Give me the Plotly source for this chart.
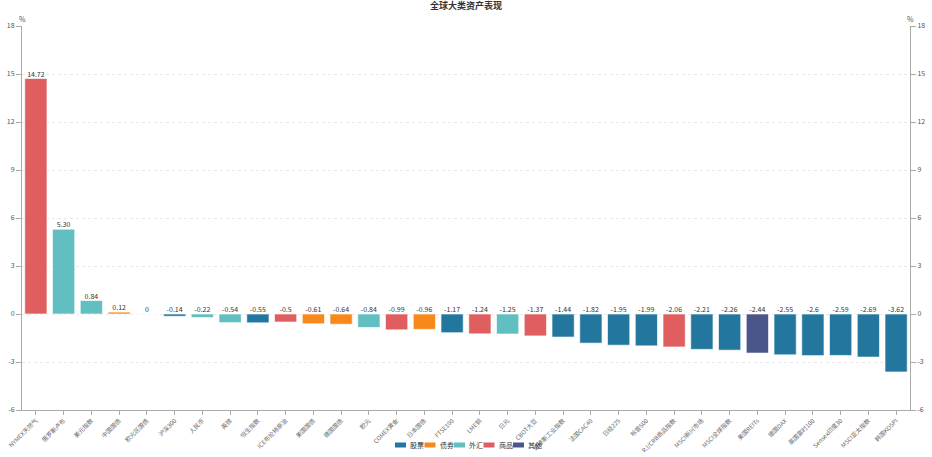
import plotly.graph_objects as go

categories = ["NYMEX天然气", "俄罗斯卢布", "美元指数", "中国国债", "欧元区国债", "沪深300", "人民币", "英镑",
              "恒生指数", "ICE布伦特原油", "美国国债", "德国国债", "欧元", "COMEX黄金", "日本国债", "FTSE100",
              "LME铜", "日元", "CBOT大豆", "道琼斯工业指数", "法国CAC40", "日经225", "标普500", "RJ/CRB商品指数",
              "MSCI新兴市场", "MSCI全球指数", "美国REITs", "德国DAX", "英国富时100", "Sensex印度30", "MSCI亚太指数", "韩国KOSPI"]
values = [14.72, 5.30, 0.84, 0.12, 0, -0.14, -0.22, -0.54,
          -0.55, -0.5, -0.61, -0.64, -0.84, -0.99, -0.96, -1.17,
          -1.24, -1.25, -1.37, -1.44, -1.82, -1.95, -1.99, -2.06,
          -2.21, -2.26, -2.44, -2.55, -2.6, -2.59, -2.69, -3.62]
value_labels = ["14.72", "5.30", "0.84", "0.12", "0", "-0.14", "-0.22", "-0.54",
                "-0.55", "-0.5", "-0.61", "-0.64", "-0.84", "-0.99", "-0.96", "-1.17",
                "-1.24", "-1.25", "-1.37", "-1.44", "-1.82", "-1.95", "-1.99", "-2.06",
                "-2.21", "-2.26", "-2.44", "-2.55", "-2.6", "-2.59", "-2.69", "-3.62"]
asset_class = ["商品", "外汇", "外汇", "债券", "债券", "股票", "外汇", "外汇",
               "股票", "商品", "债券", "债券", "外汇", "商品", "债券", "股票",
               "商品", "外汇", "商品", "股票", "股票", "股票", "股票", "商品",
               "股票", "股票", "其他", "股票", "股票", "股票", "股票", "股票"]
class_names = ["股票", "债券", "外汇", "商品", "其他"]
class_colors = ["#23779f", "#f7891c", "#62bfc1", "#e05e5f", "#4b5589"]
y_ticks = [-6, -3, 0, 3, 6, 9, 12, 15, 18]
y_tick_text = ["-6", "-3", "0", "3", "6", "9", "12", "15", "18"]

FONT = "Noto Sans CJK SC, Noto Sans, sans-serif"

fig = go.Figure()
for name, color in zip(class_names, class_colors):
    xs = [c for c, k in zip(categories, asset_class) if k == name]
    ys = [v for v, k in zip(values, asset_class) if k == name]
    fig.add_trace(go.Bar(
        x=xs, y=ys, name=name, width=0.8,
        marker=dict(color=color, line=dict(color="rgba(255,255,255,0.6)", width=1)),
        hoverinfo="x+y", showlegend=False,
    ))

fig.add_trace(go.Scatter(
    x=categories, y=[max(v, 0) for v in values], text=value_labels,
    mode="text", textposition="top center",
    textfont=dict(size=7, color="#333333", family=FONT),
    showlegend=False, hoverinfo="skip", yaxis="y2",
))

axis_common = dict(
    range=[-6, 18], tickvals=y_ticks, ticktext=y_tick_text,
    showline=True, linecolor="#aaaaaa", linewidth=1,
    ticks="outside", ticklen=5, tickcolor="#aaaaaa",
    tickfont=dict(size=7, color="#555", family=FONT),
    zeroline=False, fixedrange=True, automargin=False,
    ticklabeloverflow="allow",
)

# Plot area (in figure pixels): 888 wide x 384 tall
PW, PH = 888, 384
annotations = [
    dict(text="%", x=0, xref="paper", y=1, yref="paper", xanchor="center", yanchor="bottom",
         showarrow=False, font=dict(size=7, color="#555", family=FONT)),
    dict(text="%", x=1, xref="paper", y=1, yref="paper", xanchor="center", yanchor="bottom",
         showarrow=False, font=dict(size=7, color="#555", family=FONT)),
]
shapes = []
# compact legend below the plot, in pixel offsets from plot area
leg_x0, leg_step, leg_dy = 373, 29.5, 35
for i, (name, color) in enumerate(zip(class_names, class_colors)):
    x0 = leg_x0 + i * leg_step
    shapes.append(dict(type="rect", xref="paper", yref="paper",
                       x0=x0 / PW, x1=(x0 + 11) / PW,
                       y0=(-leg_dy - 2.5) / PH, y1=(-leg_dy + 2.5) / PH,
                       fillcolor=color, line=dict(width=0)))
    annotations.append(dict(text=name, xref="paper", yref="paper",
                            x=(x0 + 13) / PW, y=-leg_dy / PH,
                            xanchor="left", yanchor="middle", showarrow=False,
                            font=dict(size=7, color="#333", family=FONT)))

fig.update_layout(
    width=932, height=457,
    margin=dict(l=22, r=22, t=26, b=47),
    paper_bgcolor="white", plot_bgcolor="white",
    barmode="overlay", showlegend=False,
    title=dict(text="<b>全球大类资产表现</b>", x=0.5, xanchor="center", y=1, yref="container",
               yanchor="top", pad=dict(t=3),
               font=dict(size=9, color="#333", family=FONT)),
    font=dict(family=FONT),
    xaxis=dict(
        type="category", categoryorder="array", categoryarray=categories,
        tickangle=-45, tickfont=dict(size=6, color="#666", family=FONT),
        showline=True, linecolor="#aaaaaa", linewidth=1,
        ticks="outside", ticklen=4, tickcolor="#aaaaaa",
        showgrid=False, automargin=False, range=[-0.5, len(categories) - 0.5],
        ticklabeloverflow="allow",
    ),
    yaxis=dict(**axis_common, side="left", showgrid=True, gridcolor="#e8e8e8", griddash="dot"),
    yaxis2=dict(**axis_common, side="right", overlaying="y", showgrid=False),
    shapes=shapes,
    annotations=annotations,
)

fig.write_html(
    "out.html",
    config={"displayModeBar": False},
    post_script="document.body.style.margin='0';document.body.style.overflow='hidden';",
)
